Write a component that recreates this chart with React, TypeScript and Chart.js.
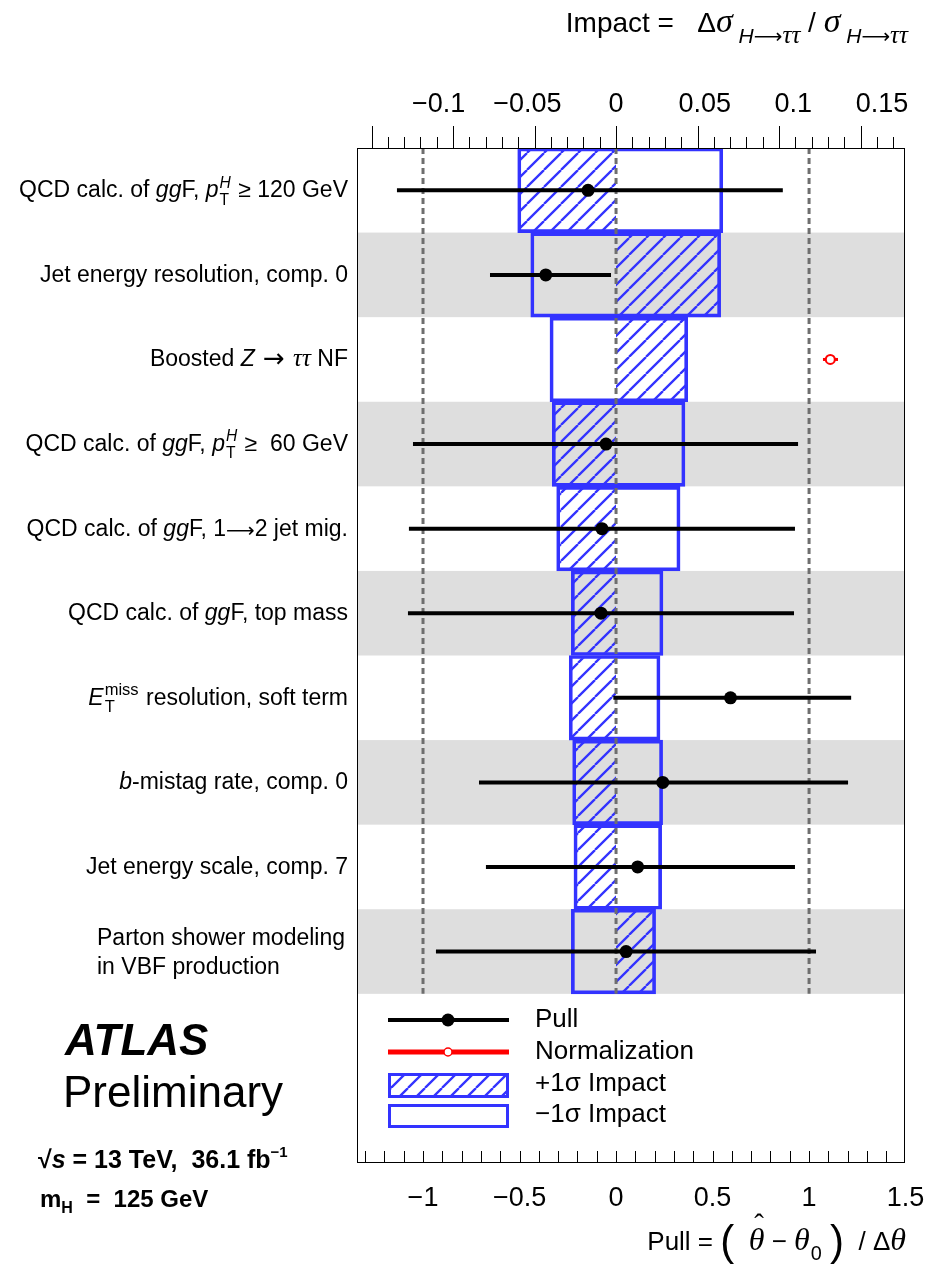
import React, { useEffect, useRef } from 'react';
import { Chart, registerables } from 'chart.js';
Chart.register(...registerables);

// ---------------- DATA ----------------
const parameterNames = [
  'QCD calc. of ggF, pT^H >= 120 GeV',
  'Jet energy resolution, comp. 0',
  'Boosted Z->tautau NF',
  'QCD calc. of ggF, pT^H >= 60 GeV',
  'QCD calc. of ggF, 1->2 jet mig.',
  'QCD calc. of ggF, top mass',
  'ETmiss resolution, soft term',
  'b-mistag rate, comp. 0',
  'Jet energy scale, comp. 7',
  'Parton shower modeling in VBF production',
];
// pulls (bottom axis), null = not a pull (normalization factor)
const pullValues = [-0.145, -0.364, null, -0.052, -0.073, -0.078, 0.593, 0.242, 0.112, 0.052];
const pullLow = [-1.135, -0.653, null, -1.052, -1.073, -1.078, -0.014, -0.71, -0.674, -0.933];
const pullHigh = [0.864, -0.026, null, 0.943, 0.927, 0.922, 1.218, 1.202, 0.927, 1.036];
// normalization factor (drawn in red)
const normRow = 2;
const normValue = 1.11;
const normLow = 1.072;
const normHigh = 1.15;
// impacts (top axis)
const impactPlus = [-0.0603, 0.0642, 0.044, -0.0391, -0.0364, -0.0274, -0.0287, -0.0266, -0.0258, 0.0243];
const impactMinus = [0.0655, -0.0523, -0.0405, 0.0423, 0.0393, 0.0288, 0.027, 0.0286, 0.028, -0.0274];
// tick labels
const pullTickLabels = [-1, -0.5, 0, 0.5, 1, 1.5];
const impactTickLabels = [-0.1, -0.05, 0, 0.05, 0.1, 0.15];
const dashedPulls = [-1, 0, 1];

// ---------------- STYLE ----------------
const BLUE = '#3333ff';
const SANS = '"Liberation Sans", Arial, Helvetica, sans-serif';
const SERIF = '"Liberation Serif", "DejaVu Serif", serif';
const DJ = '"DejaVu Sans", sans-serif';

type Seg = {
  t: string; it?: boolean; serif?: boolean; dj?: boolean; bold?: boolean; size?: number; dy?: number;
  sup?: string; sub?: string; supIt?: boolean; subIt?: boolean; scale?: number; hat?: boolean;
};

function fontOf(size: number, it?: boolean, bold?: boolean, serif?: boolean, dj?: boolean) {
  return `${it ? 'italic ' : ''}${bold ? 'bold ' : ''}${size}px ${dj ? DJ : serif ? SERIF : SANS}`;
}

function segWidth(ctx: CanvasRenderingContext2D, s: Seg, base: number) {
  const size = s.size ?? base;
  ctx.font = fontOf(size, s.it, s.bold, s.serif, s.dj);
  const w = ctx.measureText(s.t).width;
  let sw = 0;
  const ss = size * (s.scale ?? 0.68);
  if (s.sup) { ctx.font = fontOf(ss, s.supIt, s.bold); sw = Math.max(sw, ctx.measureText(s.sup).width); }
  if (s.sub) { ctx.font = fontOf(ss, s.subIt, s.bold); sw = Math.max(sw, ctx.measureText(s.sub).width); }
  return w + (sw ? sw + 2 : 0);
}

function drawRich(ctx: CanvasRenderingContext2D, segs: Seg[], x: number, y: number, align: 'left' | 'right', base: number) {
  const total = segs.reduce((a, s) => a + segWidth(ctx, s, base), 0);
  let cx = align === 'right' ? x - total : x;
  ctx.textAlign = 'left';
  ctx.textBaseline = 'alphabetic';
  ctx.fillStyle = '#000';
  for (const s of segs) {
    const size = s.size ?? base;
    ctx.font = fontOf(size, s.it, s.bold, s.serif, s.dj);
    const w = ctx.measureText(s.t).width;
    ctx.fillText(s.t, cx, y + (s.dy ?? 0));
    if (s.hat) {
      ctx.font = fontOf(size * 0.9, false, false, true);
      const hw = ctx.measureText('ˆ').width;
      ctx.fillText('ˆ', cx + w / 2 - hw / 2 + size * 0.08, y - size * 0.5);
    }
    cx += w;
    if (s.sup || s.sub) {
      const ss = size * (s.scale ?? 0.68);
      let sw = 0;
      if (s.sup) {
        ctx.font = fontOf(ss, s.supIt, s.bold);
        ctx.fillText(s.sup, cx + 1, y - size * 0.42);
        sw = Math.max(sw, ctx.measureText(s.sup).width);
      }
      if (s.sub) {
        ctx.font = fontOf(ss, s.subIt, s.bold);
        ctx.fillText(s.sub, cx + 1, y + size * 0.32);
        sw = Math.max(sw, ctx.measureText(s.sub).width);
      }
      cx += sw + 2;
    }
  }
}

const rowLabels: Seg[][] = [
  [{ t: 'QCD calc. of ' }, { t: 'gg', it: true }, { t: 'F, ' }, { t: 'p', it: true, sup: 'H', supIt: true, sub: 'T' }, { t: ' ≥ 120 GeV' }],
  [{ t: 'Jet energy resolution, comp. 0' }],
  [{ t: 'Boosted ' }, { t: 'Z', it: true }, { t: ' → ', dj: true, size: 26, dy: 1 }, { t: 'ττ', it: true, serif: true, size: 25 }, { t: ' NF' }],
  [{ t: 'QCD calc. of ' }, { t: 'gg', it: true }, { t: 'F, ' }, { t: 'p', it: true, sup: 'H', supIt: true, sub: 'T' }, { t: ' ≥  60 GeV' }],
  [{ t: 'QCD calc. of ' }, { t: 'gg', it: true }, { t: 'F, 1' }, { t: '⟶', dj: true, size: 20, dy: 1 }, { t: '2 jet mig.' }],
  [{ t: 'QCD calc. of ' }, { t: 'gg', it: true }, { t: 'F, top mass' }],
  [{ t: 'E', it: true, sup: 'miss', sub: 'T', scale: 0.72 }, { t: ' resolution, soft term' }],
  [{ t: 'b', it: true }, { t: '-mistag rate, comp. 0' }],
  [{ t: 'Jet energy scale, comp. 7' }],
  [],
];
const lastRowLines = ['Parton shower modeling', 'in VBF production'];

function makeHatch(): CanvasPattern {
  const s = 17;
  const c = document.createElement('canvas');
  c.width = s; c.height = s;
  const g = c.getContext('2d')!;
  g.strokeStyle = BLUE;
  g.lineWidth = 2.3;
  g.beginPath();
  for (const o of [-s, 0, s]) { g.moveTo(o, s); g.lineTo(o + s, 0); }
  g.stroke();
  return g.createPattern(c, 'repeat')!;
}

export default function App() {
  const ref = useRef<HTMLCanvasElement>(null);

  useEffect(() => {
    const canvas = ref.current!;
    const hatch = makeHatch();
    const rowY = (i: number) => i + 0.5;
    const datasets: any[] = [];

    datasets.push({
      type: 'bar', label: '+1σ Impact', indexAxis: 'y', xAxisID: 'x2', yAxisID: 'y',
      data: impactPlus.map((v, i) => ({ x: [0, v], y: rowY(i) })),
      backgroundColor: hatch, borderColor: BLUE, borderWidth: 3, borderSkipped: 'start',
      grouped: false, barPercentage: 1, categoryPercentage: 1, order: 10,
    });
    datasets.push({
      type: 'bar', label: '−1σ Impact', indexAxis: 'y', xAxisID: 'x2', yAxisID: 'y',
      data: impactMinus.map((v, i) => ({ x: [0, v], y: rowY(i) })),
      backgroundColor: 'rgba(0,0,0,0)', borderColor: BLUE, borderWidth: 3, borderSkipped: 'start',
      grouped: false, barPercentage: 1, categoryPercentage: 1, order: 9,
    });
    dashedPulls.forEach((v) => {
      datasets.push({
        type: 'line', xAxisID: 'x', yAxisID: 'y',
        data: [{ x: v, y: 0 }, { x: v, y: parameterNames.length }],
        borderColor: '#6e6e6e', borderWidth: 3, borderDash: [6, 4], pointRadius: 0, order: 8,
      });
    });
    pullValues.forEach((v, i) => {
      if (v === null) return;
      datasets.push({
        type: 'line', xAxisID: 'x', yAxisID: 'y',
        data: [{ x: pullLow[i], y: rowY(i) }, { x: pullHigh[i], y: rowY(i) }],
        borderColor: '#000', borderWidth: 4, pointRadius: 0, order: 3,
      });
    });
    datasets.push({
      type: 'scatter', label: 'Pull', xAxisID: 'x', yAxisID: 'y',
      data: pullValues.map((v, i) => (v === null ? null : { x: v, y: rowY(i) })).filter((d) => d !== null),
      pointRadius: 6.5, pointBackgroundColor: '#000', pointBorderColor: '#000', pointBorderWidth: 0, order: 2,
    });
    datasets.push({
      type: 'line', xAxisID: 'x', yAxisID: 'y',
      data: [{ x: normLow, y: rowY(normRow) }, { x: normHigh, y: rowY(normRow) }],
      borderColor: '#ff0000', borderWidth: 3, pointRadius: 0, order: 3,
    });
    datasets.push({
      type: 'scatter', label: 'Normalization', xAxisID: 'x', yAxisID: 'y',
      data: [{ x: normValue, y: rowY(normRow) }],
      pointRadius: 4.5, pointBackgroundColor: '#fff', pointBorderColor: '#ff0000', pointBorderWidth: 2, order: 1,
    });

    const bandsPlugin = {
      id: 'bands',
      beforeDatasetsDraw(chart: any) {
        const { ctx, chartArea: a, scales } = chart;
        const y = scales.y;
        ctx.save();
        ctx.fillStyle = '#dedede';
        for (let i = 1; i < parameterNames.length; i += 2) {
          const t = y.getPixelForValue(i), b = y.getPixelForValue(i + 1);
          ctx.fillRect(a.left, t, a.right - a.left, b - t);
        }
        ctx.restore();
      },
    };

    const decoPlugin = {
      id: 'deco',
      afterDraw(chart: any) {
        const { ctx, chartArea: a, scales } = chart;
        const xs = scales.x, xi = scales.x2, y = scales.y;
        ctx.save();
        // frame
        ctx.strokeStyle = '#000';
        ctx.lineWidth = 1;
        ctx.strokeRect(a.left + 0.5, a.top + 0.5, a.right - a.left - 1, a.bottom - a.top - 1);
        // top (impact) ticks
        ctx.beginPath();
        for (let k = -20; k <= 20; k++) {
          const px = xi.getPixelForValue(k / 100);
          if (px < a.left + 2 || px > a.right - 2) continue;
          const len = k % 5 === 0 ? 22 : 11;
          ctx.moveTo(Math.round(px) + 0.5, a.top);
          ctx.lineTo(Math.round(px) + 0.5, a.top - len);
        }
        // bottom (pull) ticks
        for (let k = -20; k <= 20; k++) {
          const px = xs.getPixelForValue(k / 10);
          if (px < a.left + 2 || px > a.right - 2) continue;
          ctx.moveTo(Math.round(px) + 0.5, a.bottom);
          ctx.lineTo(Math.round(px) + 0.5, a.bottom - 12);
        }
        ctx.stroke();
        // tick labels
        ctx.fillStyle = '#000';
        ctx.textAlign = 'center';
        ctx.textBaseline = 'alphabetic';
        ctx.font = fontOf(27);
        const fmt = (v: number) => (v < 0 ? '−' + String(-v) : String(v));
        impactTickLabels.forEach((v) => {
          ctx.fillText(fmt(v), xi.getPixelForValue(v * 1.088), a.top - 36);
        });
        pullTickLabels.forEach((v) => {
          ctx.fillText(fmt(v), xs.getPixelForValue(v), a.bottom + 43);
        });
        // axis titles
        drawRich(ctx, [
          { t: 'Impact =   ' }, { t: 'Δ', size: 28 }, { t: 'σ', it: true, serif: true, size: 34 },
          { t: ' H', it: true, size: 21, dy: 11 }, { t: '⟶', dj: true, size: 20, dy: 11 }, { t: 'ττ', it: true, serif: true, size: 25, dy: 11 },
          { t: ' / ' }, { t: 'σ', it: true, serif: true, size: 34 },
          { t: ' H', it: true, size: 21, dy: 11 }, { t: '⟶', dj: true, size: 20, dy: 11 }, { t: 'ττ', it: true, serif: true, size: 25, dy: 11 },
        ], 908, 32, 'right', 28);
        drawRich(ctx, [
          { t: 'Pull = ' }, { t: '(', size: 42, dy: 5 }, { t: '  ' },
          { t: 'θ', it: true, serif: true, size: 32, hat: true }, { t: ' − ' },
          { t: 'θ', it: true, serif: true, size: 32, sub: '0', scale: 0.62 }, { t: ' ' }, { t: ')', size: 42, dy: 5 },
          { t: '  / Δ' }, { t: 'θ', it: true, serif: true, size: 32 },
        ], 906, 1250, 'right', 26);
        // row labels
        rowLabels.forEach((segs, i) => {
          if (!segs.length) return;
          drawRich(ctx, segs, 348, y.getPixelForValue(rowY(i)) + 7, 'right', 23);
        });
        const c9 = y.getPixelForValue(rowY(parameterNames.length - 1));
        ctx.font = fontOf(23);
        ctx.textAlign = 'left';
        ctx.fillText(lastRowLines[0], 97, c9 - 7);
        ctx.fillText(lastRowLines[1], 97, c9 + 22);
        // legend
        const lx0 = 388, lx1 = 509, lxm = 448, tx = 535;
        ctx.lineWidth = 4;
        ctx.strokeStyle = '#000';
        ctx.beginPath(); ctx.moveTo(lx0, 1020); ctx.lineTo(lx1, 1020); ctx.stroke();
        ctx.fillStyle = '#000';
        ctx.beginPath(); ctx.arc(lxm, 1020, 6.5, 0, Math.PI * 2); ctx.fill();
        ctx.lineWidth = 5;
        ctx.strokeStyle = '#ff0000';
        ctx.beginPath(); ctx.moveTo(lx0, 1052); ctx.lineTo(lx1, 1052); ctx.stroke();
        ctx.fillStyle = '#fff';
        ctx.lineWidth = 1.5;
        ctx.beginPath(); ctx.arc(lxm, 1052, 4, 0, Math.PI * 2); ctx.fill(); ctx.stroke();
        ctx.fillStyle = hatch;
        ctx.fillRect(lx0, 1074, lx1 - lx0, 22);
        ctx.strokeStyle = BLUE;
        ctx.lineWidth = 3;
        ctx.strokeRect(lx0 + 1.5, 1074.5, lx1 - lx0 - 3, 22);
        ctx.strokeRect(lx0 + 1.5, 1105.5, lx1 - lx0 - 3, 21);
        ctx.fillStyle = '#000';
        ctx.font = fontOf(26);
        ctx.textAlign = 'left';
        ctx.fillText('Pull', tx, 1027);
        ctx.fillText('Normalization', tx, 1059);
        ctx.fillText('+1σ Impact', tx, 1091);
        ctx.fillText('−1σ Impact', tx, 1122);
        // ATLAS label
        ctx.font = fontOf(44, true, true);
        ctx.fillText('ATLAS', 65, 1055);
        ctx.font = fontOf(44);
        ctx.fillText('Preliminary', 63, 1107);
        drawRich(ctx, [
          { t: '√', bold: true }, { t: 's', bold: true, it: true }, { t: ' = 13 TeV,  36.1 fb', bold: true },
          { t: '−1', bold: true, size: 15, dy: -11 },
        ], 38, 1168, 'left', 25);
        drawRich(ctx, [
          { t: 'm', bold: true }, { t: 'H', bold: true, size: 16, dy: 6 }, { t: '  =  125 GeV', bold: true },
        ], 40, 1207, 'left', 24);
        ctx.restore();
      },
    };

    const chart = new Chart(canvas, {
      type: 'bar',
      data: { datasets },
      options: {
        animation: false,
        responsive: false,
        maintainAspectRatio: false,
        devicePixelRatio: 1,
        events: [],
        layout: { padding: { left: 357, right: 24, top: 148, bottom: 102 } },
        plugins: { legend: { display: false }, tooltip: { enabled: false }, title: { display: false } },
        scales: {
          x: { type: 'linear', axis: 'x', position: 'bottom', min: -1.342, max: 1.497, offset: false, display: false },
          x2: { type: 'linear', axis: 'x', position: 'top', min: -0.1589, max: 0.1773, offset: false, display: false },
          y: { type: 'linear', axis: 'y', min: 0, max: 12, reverse: true, offset: false, display: false, ticks: { stepSize: 1 } },
        },
      } as any,
      plugins: [bandsPlugin, decoPlugin],
    });
    return () => chart.destroy();
  }, []);

  return (
    <div style={{ position: 'absolute', left: 0, top: 0, width: 929, height: 1265, background: '#fff' }}>
      <canvas ref={ref} width={929} height={1265} style={{ display: 'block', width: 929, height: 1265 }} />
    </div>
  );
}
